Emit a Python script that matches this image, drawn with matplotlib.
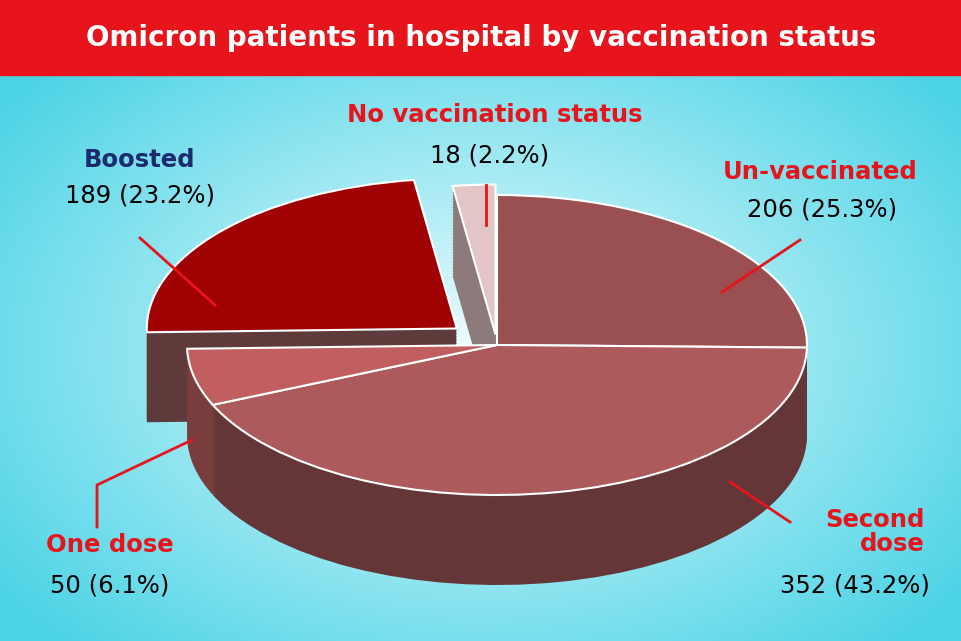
import matplotlib.pyplot as plt
import numpy as np

labels = ['Un-vaccinated', 'Second dose', 'One dose', 'Boosted', 'No vaccination status']
counts = [206, 352, 50, 189, 18]
shares = [25.3, 43.2, 6.1, 23.2, 2.2]
top_colors = ['#9a4f50', '#ad5a5c', '#c15f60', '#a00204', '#e2c6c6']
side_colors = ['#5c3434', '#643637', '#7a3d3e', '#5e3a3a', '#8d7a7a']
explode = [0, 0, 0, 0.17, 0.07]

W, H = 962, 641
fig = plt.figure(figsize=(W / 100, H / 100), dpi=100)

# background
bg = fig.add_axes([0, 0, 1, 1])
yy, xx = np.mgrid[0:H, 0:W]
r = np.sqrt(((xx - 480) / 600) ** 2 + ((yy - 350) / 400) ** 2)
base = np.array([0.93, 0.99, 1.0])
edge = np.array([0.30, 0.83, 0.90])
t = np.clip(r, 0, 1)[..., None]
img = base * (1 - t) + edge * t
bg.imshow(img, extent=[0, W, 0, H], aspect='auto')
bg.axis('off')

# 3D pie as stacked layers
rx, ry, depth = 310, 150, 0.6
cx, cy = 497, 345
ax_w = 2.2 * rx
ax_h = (2.2 + depth) * ry
top_px = cy - 1.1 * ry
pie_ax = fig.add_axes([(cx - 1.1 * rx) / W, (H - top_px - ax_h) / H, ax_w / W, ax_h / H])
for d in np.linspace(depth, 0.02, 30):
    pie_ax.pie(counts, colors=side_colors, startangle=90, counterclock=False,
               explode=explode, center=(0, -d), wedgeprops=dict(linewidth=0))
pie_ax.pie(counts, colors=top_colors, startangle=90, counterclock=False,
           explode=explode, wedgeprops=dict(edgecolor='white', linewidth=1.5))
pie_ax.set_aspect('auto')
pie_ax.set_xlim(-1.1, 1.1)
pie_ax.set_ylim(-1.1 - depth, 1.1)
pie_ax.axis('off')

# overlay for text and leader lines
ov = fig.add_axes([0, 0, 1, 1])
ov.set_xlim(0, W)
ov.set_ylim(H, 0)
ov.axis('off')
ov.patch.set_alpha(0)

ov.add_patch(plt.Rectangle((0, 0), W, 75, color='#e8141c'))
ov.text(W / 2, 38, 'Omicron patients in hospital by vaccination status', color='white',
        fontsize=20, fontweight='bold', ha='center', va='center')

red = '#e8141c'
navy = '#1c2b6e'
lines = [
    [(140, 238), (215, 305)],
    [(486, 185), (486, 225)],
    [(800, 240), (722, 292)],
    [(790, 522), (730, 482)],
    [(97, 527), (97, 485), (192, 440)],
]
for pts in lines:
    xs, ys = zip(*pts)
    ov.plot(xs, ys, color=red, lw=2)

fs = 17.5
ov.text(495, 115, labels[4], color=red, fontsize=fs, fontweight='bold', ha='center', va='center')
ov.text(490, 155, f'{counts[4]} ({shares[4]}%)', fontsize=fs, ha='center', va='center')
ov.text(140, 160, labels[3], color=navy, fontsize=fs, fontweight='bold', ha='center', va='center')
ov.text(140, 195, f'{counts[3]} ({shares[3]}%)', fontsize=fs, ha='center', va='center')
ov.text(820, 172, labels[0], color=red, fontsize=fs, fontweight='bold', ha='center', va='center')
ov.text(822, 210, f'{counts[0]} ({shares[0]}%)', fontsize=fs, ha='center', va='center')
ov.text(925, 532, 'Second\ndose', color=red, fontsize=fs, fontweight='bold', ha='right',
        va='center', linespacing=0.95)
ov.text(855, 585, f'{counts[1]} ({shares[1]}%)', fontsize=fs, ha='center', va='center')
ov.text(110, 545, labels[2], color=red, fontsize=fs, fontweight='bold', ha='center', va='center')
ov.text(110, 585, f'{counts[2]} ({shares[2]}%)', fontsize=fs, ha='center', va='center')

fig.savefig('out.png', dpi=100)
